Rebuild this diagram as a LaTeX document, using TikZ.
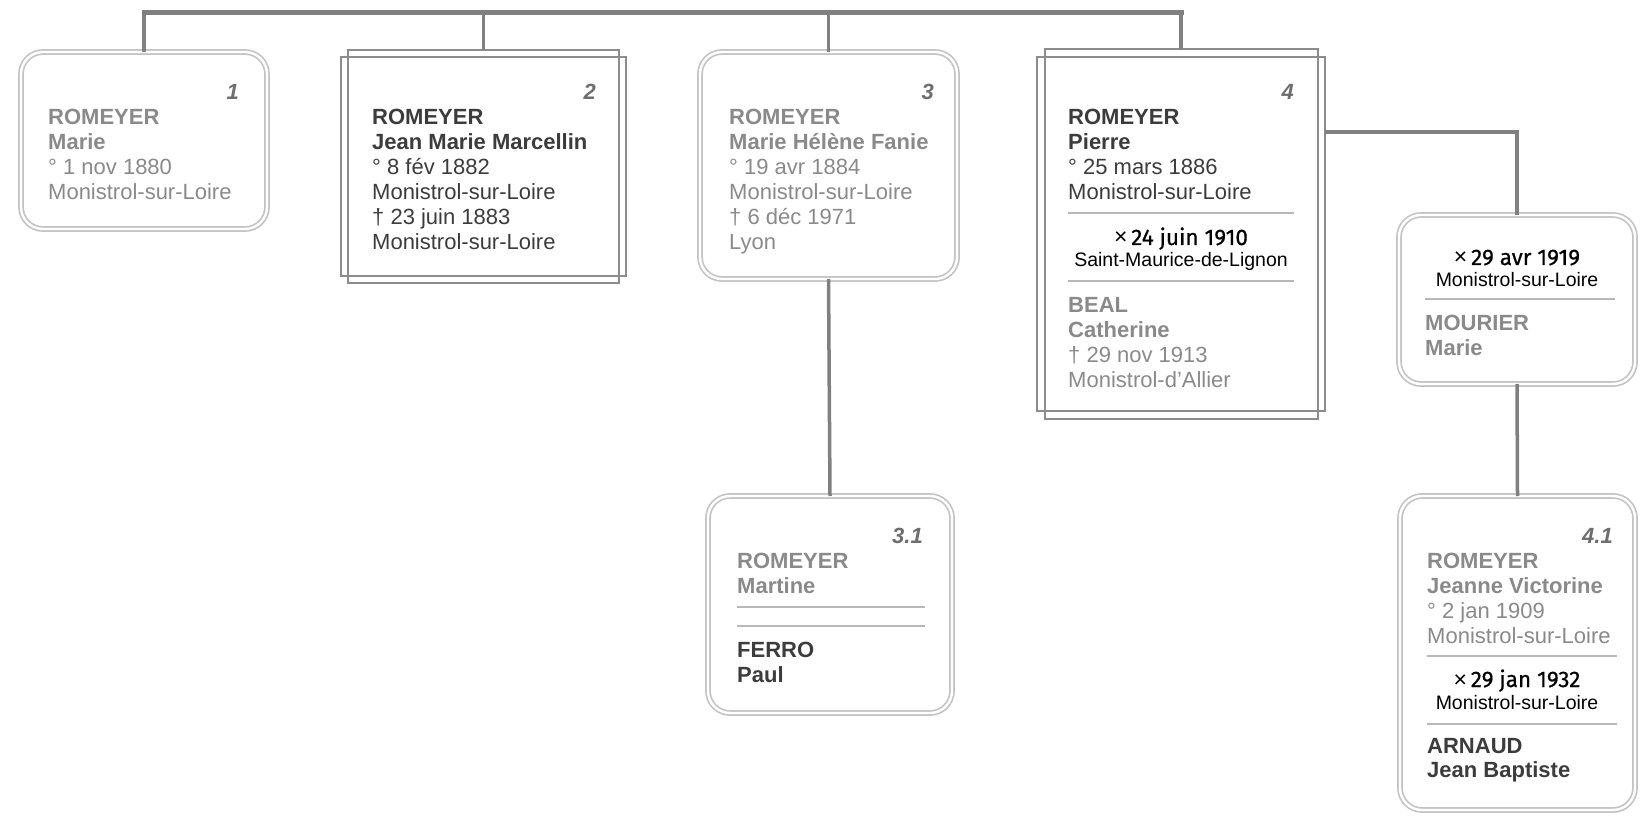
\documentclass[tikz,border=0pt]{standalone}
\usepackage{fontspec}
\setmainfont{Liberation Sans}
\newfontfamily\marrfont{Fira Sans}[FakeBold=0.6]
\definecolor{boxlight}{HTML}{C4C4C4}
\definecolor{boxdark}{HTML}{8C8C8C}
\definecolor{connc}{HTML}{808080}
\definecolor{txtlight}{HTML}{8A8A8A}
\definecolor{txtdark}{HTML}{3C3C3C}
\definecolor{numc}{HTML}{6E6E6E}
\definecolor{sepc}{HTML}{B8B8B8}
\newcommand{\mrk}{{\rmfamily\fontsize{23}{25}\selectfont ×}}
\tikzset{
  rbox/.style={draw=boxlight, line width=1.7pt, double=white, double distance=2.4pt,
    rounded corners=22pt, inner sep=0pt, outer sep=0pt, anchor=north west},
  sbox/.style={draw=none, inner sep=0pt, outer sep=0pt, anchor=north west},
  sqline/.style={draw=boxdark, line width=2pt},
  conn/.style={draw=connc, line width=3.5pt},
  barline/.style={draw=connc, line width=5pt, line cap=rect},
  sepline/.style={draw=sepc, line width=1.2pt},
  nm/.style={anchor=base west, inner sep=0pt, font=\fontsize{22}{25}\selectfont\bfseries},
  inf/.style={anchor=base west, inner sep=0pt, font=\fontsize{22}{25}\selectfont},
  num/.style={anchor=base east, inner sep=0pt, text=numc, font=\fontsize{22}{25}\selectfont\bfseries\itshape},
  marr/.style={anchor=base, inner sep=0pt, text=black, font=\marrfont\fontsize{22.5}{25}\selectfont},
  plc/.style={anchor=base, inner sep=0pt, text=black, font=\fontsize{19.5}{22}\selectfont},
  lt/.style={text=txtlight},
  dk/.style={text=txtdark}
}
\begin{document}
\begin{tikzpicture}[x=1pt,y=-1pt]
\useasboundingbox[fill=white] (0,0) rectangle (1640,818);

% ---------- boxes ----------
\node[rbox, minimum width=246pt, minimum height=177pt] (b1) at (21,52) {};
\node[sbox, minimum width=285pt, minimum height=233pt] (b2) at (341,50) {};
\draw[sqline] ([xshift=7pt]b2.north west) rectangle ([xshift=-7pt]b2.south east);
\draw[sqline] ([yshift=-7pt]b2.north west) rectangle ([yshift=7pt]b2.south east);
\node[rbox, minimum width=257pt, minimum height=227pt] (b3) at (700,52) {};
\node[sbox, minimum width=288pt, minimum height=370pt] (b4) at (1037,49) {};
\draw[sqline] ([xshift=8pt]b4.north west) rectangle ([xshift=-7pt]b4.south east);
\draw[sqline] ([yshift=-8pt]b4.north west) rectangle ([yshift=8pt]b4.south east);
\node[rbox, minimum width=236pt, minimum height=169pt] (b4m) at (1399,215) {};
\node[rbox, minimum width=244pt, minimum height=217pt] (b31) at (708,496) {};
\node[rbox, minimum width=235pt, minimum height=314pt] (b41) at (1400,496) {};

% ---------- connectors ----------
\coordinate (bar) at (0,13);
\draw[barline] (b1.north |- bar) -- (b4.north |- bar);
\draw[conn] (b1.north) -- (b1.north |- bar);
\draw[conn] (b2.north) -- (b2.north |- bar);
\draw[conn] (b3.north) -- (b3.north |- bar);
\draw[conn] (b4.north) -- (b4.north |- bar);
\draw[conn] ([yshift=-83pt]b4.north east) -| (b4m.north);
\draw[conn] (b4m.south) -- (b41.north);
\draw[conn] (b3.south) -- (b31.north);

% ---------- box 1 ----------
\node[num] (n1) at (239,100) {1};
\node[nm,lt] (t1a) at (48,125) {ROMEYER};
\node[nm,lt] (t1b) at (48,150) {Marie};
\node[inf,lt] (t1c) at (48,175) {° 1 nov 1880};
\node[inf,lt] (t1d) at (48,200) {Monistrol-sur-Loire};

% ---------- box 2 ----------
\node[num] (n2) at (596,100) {2};
\node[nm,dk] (t2a) at (372,125) {ROMEYER};
\node[nm,dk] (t2b) at (372,150) {Jean Marie Marcellin};
\node[inf,dk] (t2c) at (372,175) {° 8 fév 1882};
\node[inf,dk] (t2d) at (372,200) {Monistrol-sur-Loire};
\node[inf,dk] (t2e) at (372,225) {† 23 juin 1883};
\node[inf,dk] (t2f) at (372,250) {Monistrol-sur-Loire};

% ---------- box 3 ----------
\node[num] (n3) at (934,100) {3};
\node[nm,lt] (t3a) at (729,125) {ROMEYER};
\node[nm,lt] (t3b) at (729,150) {Marie Hélène Fanie};
\node[inf,lt] (t3c) at (729,175) {° 19 avr 1884};
\node[inf,lt] (t3d) at (729,200) {Monistrol-sur-Loire};
\node[inf,lt] (t3e) at (729,225) {† 6 déc 1971};
\node[inf,lt] (t3f) at (729,250) {Lyon};

% ---------- box 4 ----------
\node[num] (n4) at (1294,100) {4};
\node[nm,dk] (t4a) at (1068,125) {ROMEYER};
\node[nm,dk] (t4b) at (1068,150) {Pierre};
\node[inf,dk] (t4c) at (1068,175) {° 25 mars 1886};
\node[inf,dk] (t4d) at (1068,200) {Monistrol-sur-Loire};
\draw[sepline] (1068,213) -- (1294,213);
\node[marr] (m4) at (1181,245) {\mrk\,24 juin 1910};
\node[plc] (p4) at (1181,267) {Saint-Maurice-de-Lignon};
\draw[sepline] (1068,281) -- (1294,281);
\node[nm,lt] (s4a) at (1068,312) {BEAL};
\node[nm,lt] (s4b) at (1068,337) {Catherine};
\node[inf,lt] (s4c) at (1068,362) {† 29 nov 1913};
\node[inf,lt] (s4d) at (1068,387) {Monistrol-d'Allier};

% ---------- box 4 second marriage ----------
\node[marr] (m4b) at (1517,265) {\mrk\,29 avr 1919};
\node[plc] (p4b) at (1517,287) {Monistrol-sur-Loire};
\draw[sepline] (1425,299) -- (1615,299);
\node[nm,lt] (s4ba) at (1425,330) {MOURIER};
\node[nm,lt] (s4bb) at (1425,355) {Marie};

% ---------- box 3.1 ----------
\node[num] (n31) at (923,543) {3.1};
\node[nm,lt] (t31a) at (737,568) {ROMEYER};
\node[nm,lt] (t31b) at (737,593) {Martine};
\draw[sepline] (737,607) -- (925,607);
\draw[sepline] (737,626) -- (925,626);
\node[nm,dk] (s31a) at (737,657) {FERRO};
\node[nm,dk] (s31b) at (737,682) {Paul};

% ---------- box 4.1 ----------
\node[num] (n41) at (1613,543) {4.1};
\node[nm,lt] (t41a) at (1427,568) {ROMEYER};
\node[nm,lt] (t41b) at (1427,593) {Jeanne Victorine};
\node[inf,lt] (t41c) at (1427,618) {° 2 jan 1909};
\node[inf,lt] (t41d) at (1427,643) {Monistrol-sur-Loire};
\draw[sepline] (1427,656) -- (1617,656);
\node[marr] (m41) at (1517,687) {\mrk\,29 jan 1932};
\node[plc] (p41) at (1517,709) {Monistrol-sur-Loire};
\draw[sepline] (1427,724) -- (1617,724);
\node[nm,dk] (s41a) at (1427,753) {ARNAUD};
\node[nm,dk] (s41b) at (1427,777) {Jean Baptiste};
\end{tikzpicture}
\end{document}
